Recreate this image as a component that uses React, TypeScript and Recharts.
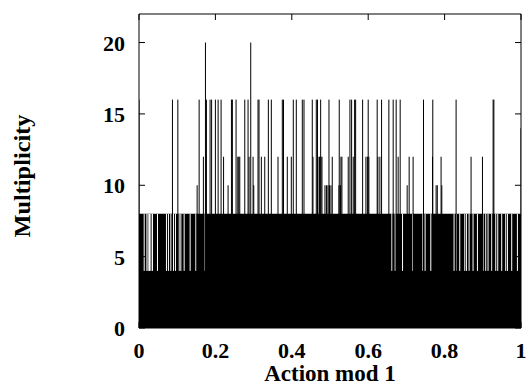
import React from 'react';
import { ComposedChart, Line, Area, XAxis, YAxis } from 'recharts';

const xTicks = [0, 0.2, 0.4, 0.6, 0.8, 1];
const xTickLabels = ['0', '0.2', '0.4', '0.6', '0.8', '1'];
const yTicks = [0, 5, 10, 15, 20];

// multiplicity reached by nearly every bin
const floorLevel = 8;
const floorRange = [0, 1];

// bins that only reach multiplicity 4
const lowLevel = 4;
const lowBins = [
  0.0136, 0.0207, 0.0241, 0.0275, 0.0311, 0.0353, 0.0484, 0.0719, 0.0771, 0.0834,
  0.0902, 0.0954, 0.1051, 0.1095, 0.1182, 0.1339, 0.1488, 0.1731,
  0.662, 0.6706, 0.6899, 0.7161, 0.7432, 0.749, 0.7639, 0.8248, 0.8311, 0.8397,
  0.8528, 0.8572, 0.8641, 0.8745, 0.886, 0.9007, 0.9077, 0.9137, 0.9234, 0.9339,
  0.9391, 0.9495, 0.96, 0.9645, 0.9757, 0.9906,
];

// bins standing above the floor, grouped by multiplicity
const spikes20 = [0.174, 0.2925];
const spikes16 = [
  0.0, 0.0876, 0.1017, 0.1574, 0.1765, 0.1861, 0.1901, 0.2, 0.2071, 0.2149,
  0.242, 0.2445, 0.2541, 0.2769, 0.2855, 0.3116, 0.3142, 0.3386, 0.3464, 0.3752,
  0.3783, 0.4039, 0.4118, 0.4275, 0.4319, 0.4536, 0.4641, 0.4672, 0.4755, 0.4973,
  0.5242, 0.5522, 0.5566, 0.5644, 0.5671, 0.5854, 0.6, 0.6235, 0.635, 0.6541,
  0.6654, 0.6732, 0.6837, 0.7448, 0.7691, 0.8301, 0.927, 0.929,
];
const spikes14 = [1.0];
const spikes12 = [
  0.1686, 0.2214, 0.2586, 0.2612, 0.2638, 0.2881, 0.2986, 0.3203, 0.3292, 0.3639,
  0.3882, 0.3987, 0.4554, 0.4685, 0.4724, 0.4763, 0.479, 0.5059, 0.5286, 0.5312,
  0.5477, 0.5608, 0.594, 0.5979, 0.6018, 0.6254, 0.6306, 0.6784, 0.7072, 0.7176,
  0.7684, 0.7908, 0.8693, 0.8991,
];
const spikes10 = [
  0.1522, 0.2332, 0.3004, 0.4868, 0.4907, 0.4946, 0.4986, 0.5025, 0.5234, 0.5273,
  0.7020, 0.7778, 0.7809, 0.7927,
];

// vertical segments from `from` to `to`, broken apart by null points
const toSegments = (xs: number[], from: number, to: number) =>
  xs.flatMap(x => [{ x, m: from }, { x, m: to }, { x, m: null }]);

const floorData = floorRange.map(x => ({ x, m: floorLevel }));
const lowData = toSegments(lowBins, lowLevel, floorLevel);
const spikeData = [
  ...toSegments(spikes10, 0, 10),
  ...toSegments(spikes12, 0, 12),
  ...toSegments(spikes14, 0, 14),
  ...toSegments(spikes16, 0, 16),
  ...toSegments(spikes20, 0, 20),
];

const font = { fontFamily: '"Liberation Serif", "Times New Roman", serif', fontWeight: 700 };

const XTick = (props: any) => {
  const { x, y, payload } = props;
  const i = xTicks.indexOf(payload.value);
  return (
    <g>
      <line x1={x} x2={x} y1={y} y2={y - 6} stroke="#000" />
      <text x={x} y={y + 30} textAnchor="middle" fontSize={22} fill="#000" {...font}>
        {xTickLabels[i]}
      </text>
    </g>
  );
};

const YTick = (props: any) => {
  const { x, y, payload } = props;
  return (
    <g>
      <line x1={x} x2={x + 6} y1={y} y2={y} stroke="#000" />
      <text x={x - 14} y={y + 8} textAnchor="end" fontSize={22} fill="#000" {...font}>
        {payload.value}
      </text>
    </g>
  );
};

const XTitle = (props: any) => {
  const { x, y, width } = props.viewBox;
  return (
    <text x={x + width / 2} y={y + 53} textAnchor="middle" fontSize={23} fill="#000" {...font}>
      Action mod 1
    </text>
  );
};

const YTitle = (props: any) => {
  const { x, y, height } = props.viewBox;
  const cx = x + 30;
  const cy = y + height / 2 + 5;
  return (
    <text
      x={cx}
      y={cy}
      transform={`rotate(-90, ${cx}, ${cy})`}
      textAnchor="middle"
      fontSize={23}
      textLength={123}
      lengthAdjust="spacingAndGlyphs"
      fill="#000"
      {...font}
    >
      Multiplicity
    </text>
  );
};

export default function App() {
  return (
    <div style={{ position: 'absolute', left: 0, top: 0, width: 527, height: 387 }}>
      <ComposedChart width={527} height={387} margin={{ top: 13, right: 5, bottom: 0, left: 0 }}>
        <XAxis
          dataKey="x"
          type="number"
          domain={[0, 1]}
          ticks={xTicks}
          interval={0}
          allowDataOverflow
          height={59}
          axisLine={{ stroke: '#000' }}
          tickLine={false}
          tickSize={0}
          tickMargin={0}
          tick={(p: any) => <XTick {...p} />}
          label={{ content: (p: any) => <XTitle {...p} /> }}
        />
        <YAxis
          type="number"
          domain={[0, 22]}
          ticks={yTicks}
          interval={0}
          allowDataOverflow
          width={139}
          axisLine={{ stroke: '#000' }}
          tickLine={false}
          tickSize={0}
          tickMargin={0}
          tick={(p: any) => <YTick {...p} />}
          label={{ content: (p: any) => <YTitle {...p} /> }}
        />
        <XAxis
          xAxisId="top"
          dataKey="x"
          orientation="top"
          type="number"
          domain={[0, 1]}
          ticks={xTicks}
          interval={0}
          allowDataOverflow
          height={1}
          tick={() => <g />}
          tickSize={-6}
          axisLine={{ stroke: '#000' }}
          tickLine={{ stroke: '#000' }}
        />
        <YAxis
          yAxisId="right"
          orientation="right"
          type="number"
          domain={[0, 22]}
          ticks={yTicks}
          interval={0}
          allowDataOverflow
          width={1}
          tick={() => <g />}
          tickSize={-6}
          axisLine={{ stroke: '#000' }}
          tickLine={{ stroke: '#000' }}
        />
        <Area
          data={floorData}
          dataKey="m"
          type="linear"
          fill="#000"
          fillOpacity={1}
          stroke="none"
          isAnimationActive={false}
        />
        <Line
          data={lowData}
          dataKey="m"
          type="linear"
          stroke="#fff"
          strokeWidth={1}
          dot={false}
          activeDot={false}
          isAnimationActive={false}
        />
        <Line
          data={spikeData}
          dataKey="m"
          type="linear"
          stroke="#000"
          strokeWidth={1}
          dot={false}
          activeDot={false}
          isAnimationActive={false}
        />
        {/* invisible series so the frame axes on top and right get drawn */}
        <Line
          data={floorData}
          dataKey="m"
          xAxisId="top"
          yAxisId="right"
          stroke="none"
          dot={false}
          activeDot={false}
          isAnimationActive={false}
        />
      </ComposedChart>
    </div>
  );
}
